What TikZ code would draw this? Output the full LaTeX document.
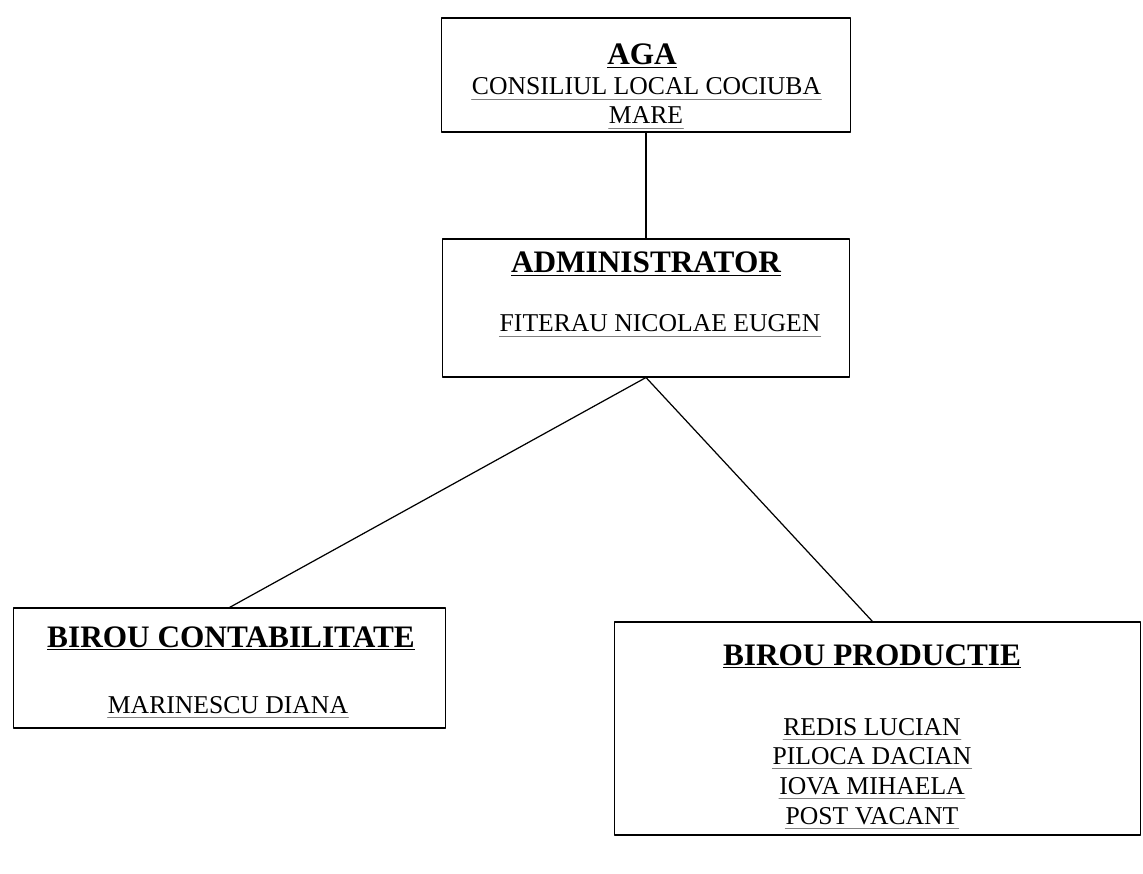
\documentclass[tikz,border=0pt]{standalone}
\usepackage{fontspec}
\setmainfont{Liberation Serif}
\begin{document}
\begin{tikzpicture}[x=0.02cm, y=-0.02cm, line join=round, line cap=round,
	box/.style={draw, line width=0.6pt, inner sep=0pt},
	title/.style={anchor=base, inner sep=0pt, font=\fontsize{17.8}{20}\selectfont\bfseries},
	person/.style={anchor=base, inner sep=0pt, font=\fontsize{14.6}{17}\selectfont,
		append after command={([yshift=-2.2pt]\tikzlastnode.base west)
			edge[gray, line width=0.4pt] ([yshift=-2.2pt]\tikzlastnode.base east)}}]
	\useasboundingbox (0,0) rectangle (1143,874);
	% boxes
	\node[box, minimum width=8.18cm, minimum height=2.28cm] (aga) at (646,75) {};
	\node[box, minimum width=8.16cm, minimum height=2.76cm] (adm) at (646,308) {};
	\node[box, minimum width=8.66cm, minimum height=2.4cm] (cont) at (229.5,668) {};
	\node[box, minimum width=10.54cm, minimum height=4.26cm] (prod) at (877.5,728.5) {};
	% texts
	\node[title] (agaT) at (642,65) {\underline{AGA}};
	\node[person] (agaN1) at (646.5,95) {CONSILIUL LOCAL COCIUBA};
	\node[person] (agaN2) at (646,124) {MARE};
	\node[title] (admT) at (646,273) {\underline{ADMINISTRATOR}};
	\node[person] (admN) at (660,332) {FITERAU NICOLAE EUGEN};
	\node[title] (contT) at (231,647) {\underline{BIROU CONTABILITATE}};
	\node[person] (contN) at (228,713) {MARINESCU DIANA};
	\node[title] (prodT) at (872,665) {\underline{BIROU PRODUCTIE}};
	\foreach \t [count=\i] in {REDIS LUCIAN, PILOCA DACIAN, IOVA MIHAELA, POST VACANT}
		\node[person] (prodN\i) at (872,{735+29.7*(\i-1)}) {\t};
	% links
	\draw[line width=0.7pt] (aga.south) -- (adm.north);
	\draw[line width=0.7pt] (adm.south) -- (cont.north);
	\draw[line width=0.7pt] (adm.south) -- ([xshift=-0.1cm]prod.north);
\end{tikzpicture}
\end{document}
